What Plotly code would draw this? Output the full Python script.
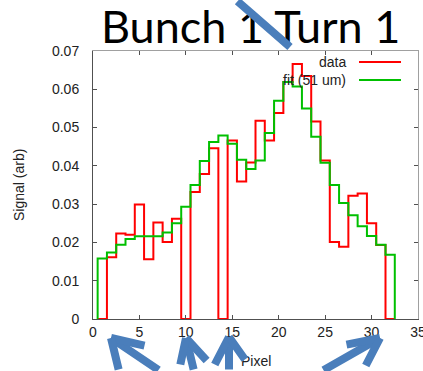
import numpy as np
import plotly.graph_objects as go

# Pixel bins (bin centres) and measured signal per bin
pixels = list(range(1, 33))
data_signal = [0.0, 0.0161, 0.0223, 0.0220, 0.0299, 0.0156, 0.0252, 0.0201,
               0.0262, 0.0, 0.0332, 0.0379, 0.0446, 0.0, 0.0466, 0.0359,
               0.0409, 0.0518, 0.0466, 0.0538, 0.0619, 0.0666, 0.0635, 0.0516,
               0.0414, 0.0201, 0.0189, 0.0322, 0.0328, 0.0250, 0.0193, 0.0]
fit_signal = [0.0158, 0.0174, 0.0194, 0.0209, 0.0216, 0.0216, 0.0216, 0.0226,
              0.0250, 0.0293, 0.0350, 0.0413, 0.0462, 0.0479, 0.0458, 0.0416,
              0.0392, 0.0414, 0.0486, 0.0570, 0.0619, 0.0607, 0.0550, 0.0476,
              0.0408, 0.0350, 0.0303, 0.0271, 0.0242, 0.0217, 0.0194, 0.0168]

x_ticks = [0, 5, 10, 15, 20, 25, 30, 35]
x_tick_labels = ["0", "5", "10", "15", "20", "25", "30", "35"]
y_ticks = [0, 0.01, 0.02, 0.03, 0.04, 0.05, 0.06, 0.07]
y_tick_labels = ["0", "0.01", "0.02", "0.03", "0.04", "0.05", "0.06", "0.07"]

W, H = 423, 371
L, R, T, B = 93, 418, 51, 319  # plot area edges in pixels


def px_x(px):
    return (px - L) / (R - L)


def px_y(py):
    return (B - py) / (B - T)


def histeps(centres, values):
    """Outline of a histogram: rises from zero at the first edge, falls to zero at the last."""
    c = np.asarray(centres, dtype=float)
    v = np.asarray(values, dtype=float)
    xs = [c[0] - 0.5]
    ys = [0.0]
    for ci, vi in zip(c, v):
        xs += [ci - 0.5, ci + 0.5]
        ys += [vi, vi]
    xs.append(c[-1] + 0.5)
    ys.append(0.0)
    return xs, ys


RED = "#ff0000"
GREEN = "#00c000"
BLUE = "#4a7ebb"
FONT = "Liberation Sans"
TXT = "#222"

fig = go.Figure()
dx, dy = histeps(pixels, data_signal)
fx, fy = histeps(pixels, fit_signal)
fig.add_trace(go.Scatter(x=dx, y=dy, mode="lines", line=dict(color=RED, width=2),
                         name="data", showlegend=False))
fig.add_trace(go.Scatter(x=fx, y=fy, mode="lines", line=dict(color=GREEN, width=2),
                         name="fit (51 um)", showlegend=False))
# carrier for the mirrored top/right axes
fig.add_trace(go.Scatter(x=[None], y=[None], xaxis="x2", yaxis="y2", showlegend=False))

axis_common = dict(ticks="inside", ticklen=4, tickwidth=1, showgrid=False, zeroline=False,
                   automargin=False)
fig.update_layout(
    template="none",
    width=W, height=H,
    margin=dict(l=L, r=W - R, t=T, b=H - B, pad=0),
    paper_bgcolor="white", plot_bgcolor="white",
    font=dict(family=FONT, size=14, color=TXT),
    showlegend=False,
    xaxis=dict(range=[0, 35], tickvals=x_ticks, ticktext=x_tick_labels, showline=True,
               linecolor="#505050", tickcolor="#505050", ticklabeloverflow="allow",
               tickfont=dict(family=FONT, size=14, color=TXT), **axis_common),
    yaxis=dict(range=[0, 0.07], tickvals=y_ticks, ticktext=y_tick_labels, showline=True,
               linecolor="#505050", tickcolor="#505050", ticklabelstandoff=10,
               tickfont=dict(family=FONT, size=14, color=TXT), **axis_common),
    xaxis2=dict(range=[0, 35], tickvals=x_ticks, overlaying="x", side="top", anchor="y",
                showline=True, linecolor="#a0a0a0", tickcolor="#505050",
                showticklabels=False, **axis_common),
    yaxis2=dict(range=[0, 0.07], tickvals=y_ticks, overlaying="y", side="right", anchor="x",
                showline=True, linecolor="#a0a0a0", tickcolor="#505050",
                showticklabels=False, **axis_common),
)

annotations = [
    dict(text="Bunch 1 Turn 1", x=px_x(250), y=px_y(26), xref="paper", yref="paper",
         xanchor="center", yanchor="middle", showarrow=False, height=40, valign="middle",
         font=dict(family="Lato", size=45, color="black")),
    dict(text="Signal (arb)", x=px_x(19), y=0.5, xref="paper", yref="paper",
         xanchor="center", yanchor="middle", textangle=-90, showarrow=False,
         font=dict(family=FONT, size=14, color=TXT)),
    dict(text="Pixel", x=0.5, y=px_y(361), xref="paper", yref="paper",
         xanchor="center", yanchor="middle", showarrow=False,
         font=dict(family=FONT, size=14, color=TXT)),
    dict(text="data", x=px_x(348), y=px_y(62), xref="paper", yref="paper",
         xanchor="right", yanchor="middle", showarrow=False,
         font=dict(family=FONT, size=14, color=TXT)),
    dict(text="fit (51 um)", x=px_x(348), y=px_y(80), xref="paper", yref="paper",
         xanchor="right", yanchor="middle", showarrow=False,
         font=dict(family=FONT, size=14, color=TXT)),
]

# Blue pointer strokes: (tip, tail) in pixels
strokes = [
    ((290, 47), (236, -4)),
    ((111, 338), (160, 376)), ((111, 338), (146, 346)), ((111, 338), (119, 372)),
    ((186, 338), (194, 380)), ((186, 338), (208, 362)), ((186, 338), (180, 366)),
    ((229, 337), (229, 380)), ((229, 337), (214, 366)), ((229, 337), (246, 361)),
    ((380, 338), (322, 376)), ((380, 338), (345, 345)), ((380, 338), (365, 367)),
]
for (tx, ty), (sx, sy) in strokes:
    annotations.append(dict(text="", x=px_x(tx), y=px_y(ty), xref="paper", yref="paper",
                            ax=sx - tx, ay=sy - ty, axref="pixel", ayref="pixel",
                            showarrow=True, arrowhead=0, arrowwidth=8, arrowcolor=BLUE,
                            standoff=0, startstandoff=0))
fig.update_layout(annotations=annotations)

# legend line samples
for yy, col in [(62, RED), (80, GREEN)]:
    fig.add_shape(type="line", xref="paper", yref="paper", x0=px_x(359), x1=px_x(401),
                  y0=px_y(yy), y1=px_y(yy), line=dict(color=col, width=2))

fig.write_html("out.html")
